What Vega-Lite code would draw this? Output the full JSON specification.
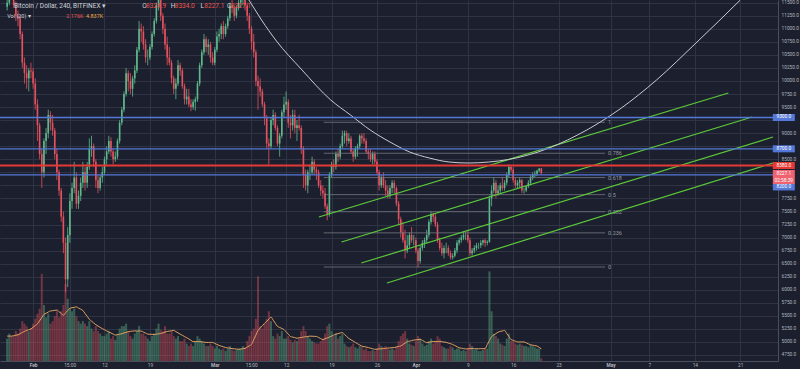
{
"$schema":"https://vega.github.io/schema/vega-lite/v6.json",
"width":778,"height":361,
"autosize":{"type":"none"},
"padding":{"left":0,"top":0,"right":22,"bottom":8},
"background":"#1c202e",
"config":{"view":{"stroke":null},"font":"Roboto","text":{"font":"Roboto"}},
"datasets":{
"candles":[
{"t":"2018-01-28T00:00Z","o":11420,"h":11560,"l":11350,"c":11500,"v":18,"ma":20},
{"t":"2018-01-28T08:00Z","o":11500,"h":11780,"l":11450,"c":11700,"v":22,"ma":20},
{"t":"2018-01-28T16:00Z","o":11700,"h":11800,"l":11550,"c":11620,"v":20,"ma":20},
{"t":"2018-01-29T00:00Z","o":11620,"h":11700,"l":11400,"c":11450,"v":20,"ma":20.3},
{"t":"2018-01-29T08:00Z","o":11450,"h":11520,"l":11150,"c":11250,"v":24,"ma":20.7},
{"t":"2018-01-29T16:00Z","o":11250,"h":11350,"l":11050,"c":11200,"v":22,"ma":21},
{"t":"2018-01-30T00:00Z","o":11200,"h":11260,"l":10800,"c":10900,"v":26,"ma":21.9},
{"t":"2018-01-30T08:00Z","o":10900,"h":10950,"l":10250,"c":10350,"v":32,"ma":22.9},
{"t":"2018-01-30T16:00Z","o":10350,"h":10450,"l":9950,"c":10150,"v":30,"ma":23.8},
{"t":"2018-01-31T00:00Z","o":10150,"h":10300,"l":9850,"c":10050,"v":28,"ma":24.5},
{"t":"2018-01-31T08:00Z","o":10050,"h":10250,"l":9800,"c":10200,"v":24,"ma":25.1},
{"t":"2018-01-31T16:00Z","o":10200,"h":10350,"l":10050,"c":10180,"v":26,"ma":25.8},
{"t":"2018-02-01T00:00Z","o":10180,"h":10250,"l":9850,"c":9950,"v":30,"ma":27.1},
{"t":"2018-02-01T08:00Z","o":9950,"h":10050,"l":9450,"c":9550,"v":34,"ma":28.5},
{"t":"2018-02-01T16:00Z","o":9550,"h":9650,"l":8850,"c":9150,"v":38,"ma":29.8},
{"t":"2018-02-02T00:00Z","o":9150,"h":9200,"l":8500,"c":8600,"v":42,"ma":32.3},
{"t":"2018-02-02T08:00Z","o":8600,"h":8700,"l":7950,"c":8250,"v":70,"ma":34.9},
{"t":"2018-02-02T16:00Z","o":8250,"h":8900,"l":8150,"c":8850,"v":45,"ma":37.4},
{"t":"2018-02-03T00:00Z","o":8850,"h":9100,"l":8600,"c":9000,"v":35,"ma":38.3},
{"t":"2018-02-03T08:00Z","o":9000,"h":9450,"l":8900,"c":9350,"v":38,"ma":39.3},
{"t":"2018-02-03T16:00Z","o":9350,"h":9420,"l":9050,"c":9200,"v":30,"ma":40.2},
{"t":"2018-02-04T00:00Z","o":9200,"h":9350,"l":8950,"c":9050,"v":32,"ma":40.4},
{"t":"2018-02-04T08:00Z","o":9050,"h":9100,"l":8500,"c":8600,"v":36,"ma":40.7},
{"t":"2018-02-04T16:00Z","o":8600,"h":8700,"l":8100,"c":8250,"v":40,"ma":40.9},
{"t":"2018-02-05T00:00Z","o":8250,"h":8300,"l":7800,"c":7900,"v":35,"ma":39.5},
{"t":"2018-02-05T08:00Z","o":7900,"h":7950,"l":7300,"c":7400,"v":40,"ma":38.2},
{"t":"2018-02-05T16:00Z","o":7400,"h":7500,"l":6700,"c":6900,"v":45,"ma":36.8},
{"t":"2018-02-06T00:00Z","o":6900,"h":7000,"l":5950,"c":6200,"v":62,"ma":38.7},
{"t":"2018-02-06T08:00Z","o":6200,"h":7200,"l":6050,"c":7050,"v":50,"ma":40.5},
{"t":"2018-02-06T16:00Z","o":7050,"h":7850,"l":6900,"c":7700,"v":42,"ma":42.4},
{"t":"2018-02-07T00:00Z","o":7700,"h":8050,"l":7550,"c":7950,"v":40,"ma":42.8},
{"t":"2018-02-07T08:00Z","o":7950,"h":8450,"l":7850,"c":8150,"v":42,"ma":43.1},
{"t":"2018-02-07T16:00Z","o":8150,"h":8250,"l":7550,"c":7650,"v":36,"ma":43.5},
{"t":"2018-02-08T00:00Z","o":7650,"h":7900,"l":7550,"c":7800,"v":32,"ma":42.5},
{"t":"2018-02-08T08:00Z","o":7800,"h":8150,"l":7700,"c":8050,"v":30,"ma":41.6},
{"t":"2018-02-08T16:00Z","o":8050,"h":8450,"l":7950,"c":8250,"v":32,"ma":40.6},
{"t":"2018-02-09T00:00Z","o":8250,"h":8350,"l":7900,"c":8050,"v":30,"ma":38.2},
{"t":"2018-02-09T08:00Z","o":8050,"h":8450,"l":7950,"c":8350,"v":28,"ma":35.9},
{"t":"2018-02-09T16:00Z","o":8350,"h":8900,"l":8300,"c":8700,"v":32,"ma":33.5},
{"t":"2018-02-10T00:00Z","o":8700,"h":8950,"l":8550,"c":8750,"v":26,"ma":32},
{"t":"2018-02-10T08:00Z","o":8750,"h":8800,"l":8350,"c":8450,"v":24,"ma":30.6},
{"t":"2018-02-10T16:00Z","o":8450,"h":8500,"l":7950,"c":8100,"v":28,"ma":29.1},
{"t":"2018-02-11T00:00Z","o":8100,"h":8200,"l":7850,"c":7950,"v":24,"ma":28.1},
{"t":"2018-02-11T08:00Z","o":7950,"h":8200,"l":7900,"c":8150,"v":22,"ma":27},
{"t":"2018-02-11T16:00Z","o":8150,"h":8350,"l":8050,"c":8250,"v":20,"ma":26},
{"t":"2018-02-12T00:00Z","o":8250,"h":8550,"l":8200,"c":8500,"v":20,"ma":25.1},
{"t":"2018-02-12T08:00Z","o":8500,"h":8750,"l":8400,"c":8650,"v":22,"ma":24.2},
{"t":"2018-02-12T16:00Z","o":8650,"h":8950,"l":8600,"c":8850,"v":24,"ma":23.3},
{"t":"2018-02-13T00:00Z","o":8850,"h":8920,"l":8550,"c":8650,"v":18,"ma":22.5},
{"t":"2018-02-13T08:00Z","o":8650,"h":8700,"l":8400,"c":8500,"v":20,"ma":21.6},
{"t":"2018-02-13T16:00Z","o":8500,"h":8650,"l":8450,"c":8550,"v":17,"ma":20.8},
{"t":"2018-02-14T00:00Z","o":8550,"h":8900,"l":8500,"c":8850,"v":22,"ma":21.2},
{"t":"2018-02-14T08:00Z","o":8850,"h":9250,"l":8800,"c":9200,"v":26,"ma":21.5},
{"t":"2018-02-14T16:00Z","o":9200,"h":9500,"l":9150,"c":9450,"v":28,"ma":21.9},
{"t":"2018-02-15T00:00Z","o":9450,"h":9800,"l":9400,"c":9750,"v":28,"ma":22.5},
{"t":"2018-02-15T08:00Z","o":9750,"h":10250,"l":9700,"c":10150,"v":30,"ma":23},
{"t":"2018-02-15T16:00Z","o":10150,"h":10200,"l":9800,"c":10000,"v":24,"ma":23.6},
{"t":"2018-02-16T00:00Z","o":10000,"h":10150,"l":9750,"c":9850,"v":20,"ma":23.8},
{"t":"2018-02-16T08:00Z","o":9850,"h":10100,"l":9700,"c":10050,"v":18,"ma":24},
{"t":"2018-02-16T16:00Z","o":10050,"h":10300,"l":9950,"c":10200,"v":22,"ma":24.2},
{"t":"2018-02-17T00:00Z","o":10200,"h":10650,"l":10150,"c":10600,"v":24,"ma":24.1},
{"t":"2018-02-17T08:00Z","o":10600,"h":11150,"l":10550,"c":11000,"v":28,"ma":24.1},
{"t":"2018-02-17T16:00Z","o":11000,"h":11100,"l":10750,"c":10950,"v":22,"ma":24},
{"t":"2018-02-18T00:00Z","o":10950,"h":11050,"l":10600,"c":10700,"v":22,"ma":23.2},
{"t":"2018-02-18T08:00Z","o":10700,"h":10800,"l":10350,"c":10450,"v":20,"ma":22.4},
{"t":"2018-02-18T16:00Z","o":10450,"h":10600,"l":10300,"c":10450,"v":18,"ma":21.6},
{"t":"2018-02-19T00:00Z","o":10450,"h":10700,"l":10400,"c":10650,"v":16,"ma":21.5},
{"t":"2018-02-19T08:00Z","o":10650,"h":10950,"l":10600,"c":10900,"v":20,"ma":21.4},
{"t":"2018-02-19T16:00Z","o":10900,"h":11200,"l":10850,"c":11150,"v":22,"ma":21.3},
{"t":"2018-02-20T00:00Z","o":11150,"h":11500,"l":11100,"c":11450,"v":26,"ma":21.6},
{"t":"2018-02-20T08:00Z","o":11450,"h":11750,"l":11350,"c":11600,"v":30,"ma":21.8},
{"t":"2018-02-20T16:00Z","o":11600,"h":11650,"l":11150,"c":11250,"v":25,"ma":22.1},
{"t":"2018-02-21T00:00Z","o":11250,"h":11300,"l":10900,"c":11000,"v":24,"ma":22.6},
{"t":"2018-02-21T08:00Z","o":11000,"h":11100,"l":10600,"c":10700,"v":28,"ma":23.2},
{"t":"2018-02-21T16:00Z","o":10700,"h":10850,"l":10300,"c":10450,"v":22,"ma":23.7},
{"t":"2018-02-22T00:00Z","o":10450,"h":10650,"l":10300,"c":10350,"v":22,"ma":24},
{"t":"2018-02-22T08:00Z","o":10350,"h":10400,"l":9950,"c":10050,"v":24,"ma":24.3},
{"t":"2018-02-22T16:00Z","o":10050,"h":10100,"l":9750,"c":9850,"v":20,"ma":24.6},
{"t":"2018-02-23T00:00Z","o":9850,"h":10050,"l":9650,"c":9950,"v":18,"ma":23.6},
{"t":"2018-02-23T08:00Z","o":9950,"h":10400,"l":9900,"c":10300,"v":20,"ma":22.6},
{"t":"2018-02-23T16:00Z","o":10300,"h":10350,"l":10100,"c":10200,"v":16,"ma":21.6},
{"t":"2018-02-24T00:00Z","o":10200,"h":10250,"l":9850,"c":9900,"v":16,"ma":20.6},
{"t":"2018-02-24T08:00Z","o":9900,"h":9950,"l":9550,"c":9650,"v":18,"ma":19.7},
{"t":"2018-02-24T16:00Z","o":9650,"h":9850,"l":9550,"c":9700,"v":14,"ma":18.7},
{"t":"2018-02-25T00:00Z","o":9700,"h":9850,"l":9500,"c":9550,"v":12,"ma":17.7},
{"t":"2018-02-25T08:00Z","o":9550,"h":9650,"l":9420,"c":9500,"v":14,"ma":16.6},
{"t":"2018-02-25T16:00Z","o":9500,"h":9650,"l":9450,"c":9600,"v":12,"ma":15.6},
{"t":"2018-02-26T00:00Z","o":9600,"h":9700,"l":9430,"c":9650,"v":16,"ma":15.6},
{"t":"2018-02-26T08:00Z","o":9650,"h":10000,"l":9600,"c":9950,"v":20,"ma":15.6},
{"t":"2018-02-26T16:00Z","o":9950,"h":10350,"l":9900,"c":10300,"v":18,"ma":15.6},
{"t":"2018-02-27T00:00Z","o":10300,"h":10600,"l":10250,"c":10550,"v":16,"ma":15.4},
{"t":"2018-02-27T08:00Z","o":10550,"h":10900,"l":10500,"c":10800,"v":14,"ma":15.1},
{"t":"2018-02-27T16:00Z","o":10800,"h":10850,"l":10550,"c":10650,"v":12,"ma":14.9},
{"t":"2018-02-28T00:00Z","o":10650,"h":10800,"l":10500,"c":10700,"v":12,"ma":14.9},
{"t":"2018-02-28T08:00Z","o":10700,"h":10750,"l":10350,"c":10450,"v":14,"ma":14.9},
{"t":"2018-02-28T16:00Z","o":10450,"h":10550,"l":10300,"c":10350,"v":12,"ma":14.9},
{"t":"2018-03-01T00:00Z","o":10350,"h":10650,"l":10300,"c":10600,"v":10,"ma":14.1},
{"t":"2018-03-01T08:00Z","o":10600,"h":10950,"l":10550,"c":10850,"v":12,"ma":13.3},
{"t":"2018-03-01T16:00Z","o":10850,"h":11000,"l":10750,"c":10900,"v":10,"ma":12.5},
{"t":"2018-03-02T00:00Z","o":10900,"h":11100,"l":10800,"c":11050,"v":9,"ma":11.9},
{"t":"2018-03-02T08:00Z","o":11050,"h":11150,"l":10800,"c":10900,"v":10,"ma":11.4},
{"t":"2018-03-02T16:00Z","o":10900,"h":11100,"l":10850,"c":11050,"v":8,"ma":10.8},
{"t":"2018-03-03T00:00Z","o":11050,"h":11250,"l":11000,"c":11200,"v":10,"ma":10.5},
{"t":"2018-03-03T08:00Z","o":11200,"h":11500,"l":11150,"c":11450,"v":12,"ma":10.3},
{"t":"2018-03-03T16:00Z","o":11450,"h":11550,"l":11300,"c":11400,"v":9,"ma":10},
{"t":"2018-03-04T00:00Z","o":11400,"h":11450,"l":11150,"c":11250,"v":8,"ma":9.8},
{"t":"2018-03-04T08:00Z","o":11250,"h":11450,"l":11200,"c":11400,"v":9,"ma":9.6},
{"t":"2018-03-04T16:00Z","o":11400,"h":11550,"l":11350,"c":11500,"v":10,"ma":9.4},
{"t":"2018-03-05T00:00Z","o":11500,"h":11650,"l":11400,"c":11550,"v":10,"ma":9.6},
{"t":"2018-03-05T08:00Z","o":11550,"h":11700,"l":11450,"c":11600,"v":12,"ma":9.9},
{"t":"2018-03-05T16:00Z","o":11600,"h":11650,"l":11350,"c":11450,"v":11,"ma":10.1},
{"t":"2018-03-06T00:00Z","o":11450,"h":11500,"l":11150,"c":11250,"v":16,"ma":11.2},
{"t":"2018-03-06T08:00Z","o":11250,"h":11300,"l":10900,"c":11000,"v":20,"ma":12.2},
{"t":"2018-03-06T16:00Z","o":11000,"h":11050,"l":10600,"c":10750,"v":24,"ma":13.3},
{"t":"2018-03-07T00:00Z","o":10750,"h":10900,"l":10450,"c":10550,"v":26,"ma":17.1},
{"t":"2018-03-07T08:00Z","o":10550,"h":10600,"l":9900,"c":10000,"v":34,"ma":20.8},
{"t":"2018-03-07T16:00Z","o":10000,"h":10100,"l":9450,"c":9900,"v":68,"ma":24.6},
{"t":"2018-03-08T00:00Z","o":9900,"h":10050,"l":9700,"c":9800,"v":28,"ma":26.5},
{"t":"2018-03-08T08:00Z","o":9800,"h":9850,"l":9500,"c":9550,"v":26,"ma":28.3},
{"t":"2018-03-08T16:00Z","o":9550,"h":9600,"l":9150,"c":9300,"v":30,"ma":30.2},
{"t":"2018-03-09T00:00Z","o":9300,"h":9350,"l":8700,"c":8800,"v":34,"ma":31.9},
{"t":"2018-03-09T08:00Z","o":8800,"h":8900,"l":8400,"c":8750,"v":40,"ma":33.6},
{"t":"2018-03-09T16:00Z","o":8750,"h":9300,"l":8700,"c":9250,"v":32,"ma":35.3},
{"t":"2018-03-10T00:00Z","o":9250,"h":9450,"l":9150,"c":9350,"v":20,"ma":32.8},
{"t":"2018-03-10T08:00Z","o":9350,"h":9400,"l":9050,"c":9100,"v":18,"ma":30.3},
{"t":"2018-03-10T16:00Z","o":9100,"h":9150,"l":8750,"c":8800,"v":22,"ma":27.8},
{"t":"2018-03-11T00:00Z","o":8800,"h":9000,"l":8550,"c":8950,"v":20,"ma":27},
{"t":"2018-03-11T08:00Z","o":8950,"h":9450,"l":8900,"c":9400,"v":24,"ma":26.1},
{"t":"2018-03-11T16:00Z","o":9400,"h":9700,"l":9300,"c":9550,"v":18,"ma":25.3},
{"t":"2018-03-12T00:00Z","o":9550,"h":9800,"l":9450,"c":9600,"v":18,"ma":23.4},
{"t":"2018-03-12T08:00Z","o":9600,"h":9650,"l":9100,"c":9200,"v":20,"ma":21.6},
{"t":"2018-03-12T16:00Z","o":9200,"h":9350,"l":8900,"c":9150,"v":17,"ma":19.7},
{"t":"2018-03-13T00:00Z","o":9150,"h":9450,"l":9050,"c":9350,"v":15,"ma":19.2},
{"t":"2018-03-13T08:00Z","o":9350,"h":9450,"l":9000,"c":9100,"v":17,"ma":18.8},
{"t":"2018-03-13T16:00Z","o":9100,"h":9250,"l":8850,"c":9150,"v":16,"ma":18.3},
{"t":"2018-03-14T00:00Z","o":9150,"h":9350,"l":9050,"c":9100,"v":18,"ma":18.6},
{"t":"2018-03-14T08:00Z","o":9100,"h":9150,"l":8600,"c":8700,"v":24,"ma":18.9},
{"t":"2018-03-14T16:00Z","o":8700,"h":8750,"l":7950,"c":8200,"v":28,"ma":19.2},
{"t":"2018-03-15T00:00Z","o":8200,"h":8300,"l":7900,"c":8000,"v":24,"ma":19.5},
{"t":"2018-03-15T08:00Z","o":8000,"h":8300,"l":7850,"c":8250,"v":20,"ma":19.7},
{"t":"2018-03-15T16:00Z","o":8250,"h":8400,"l":8100,"c":8250,"v":18,"ma":20},
{"t":"2018-03-16T00:00Z","o":8250,"h":8550,"l":8200,"c":8450,"v":16,"ma":19.9},
{"t":"2018-03-16T08:00Z","o":8450,"h":8500,"l":8200,"c":8300,"v":15,"ma":19.8},
{"t":"2018-03-16T16:00Z","o":8300,"h":8350,"l":8100,"c":8250,"v":14,"ma":19.7},
{"t":"2018-03-17T00:00Z","o":8250,"h":8300,"l":7950,"c":8000,"v":14,"ma":18.9},
{"t":"2018-03-17T08:00Z","o":8000,"h":8100,"l":7800,"c":7900,"v":16,"ma":18},
{"t":"2018-03-17T16:00Z","o":7900,"h":8000,"l":7750,"c":7850,"v":18,"ma":17.2},
{"t":"2018-03-18T00:00Z","o":7850,"h":7950,"l":7550,"c":7600,"v":22,"ma":17.9},
{"t":"2018-03-18T08:00Z","o":7600,"h":7650,"l":7330,"c":7450,"v":28,"ma":18.5},
{"t":"2018-03-18T16:00Z","o":7450,"h":8250,"l":7400,"c":8200,"v":30,"ma":19.2},
{"t":"2018-03-19T00:00Z","o":8200,"h":8450,"l":8150,"c":8400,"v":24,"ma":20},
{"t":"2018-03-19T08:00Z","o":8400,"h":8500,"l":8250,"c":8350,"v":20,"ma":20.8},
{"t":"2018-03-19T16:00Z","o":8350,"h":8650,"l":8300,"c":8600,"v":22,"ma":21.6},
{"t":"2018-03-20T00:00Z","o":8600,"h":8700,"l":8450,"c":8550,"v":18,"ma":22},
{"t":"2018-03-20T08:00Z","o":8550,"h":8800,"l":8500,"c":8750,"v":20,"ma":22.5},
{"t":"2018-03-20T16:00Z","o":8750,"h":9050,"l":8700,"c":8950,"v":22,"ma":22.9},
{"t":"2018-03-21T00:00Z","o":8950,"h":9050,"l":8800,"c":9000,"v":14,"ma":21.3},
{"t":"2018-03-21T08:00Z","o":9000,"h":9050,"l":8750,"c":8850,"v":12,"ma":19.7},
{"t":"2018-03-21T16:00Z","o":8850,"h":9000,"l":8800,"c":8900,"v":11,"ma":18.1},
{"t":"2018-03-22T00:00Z","o":8900,"h":8950,"l":8600,"c":8650,"v":12,"ma":17},
{"t":"2018-03-22T08:00Z","o":8650,"h":8700,"l":8450,"c":8550,"v":14,"ma":16},
{"t":"2018-03-22T16:00Z","o":8550,"h":8750,"l":8500,"c":8700,"v":11,"ma":14.9},
{"t":"2018-03-23T00:00Z","o":8700,"h":8800,"l":8550,"c":8750,"v":10,"ma":13.9},
{"t":"2018-03-23T08:00Z","o":8750,"h":8980,"l":8700,"c":8950,"v":12,"ma":12.9},
{"t":"2018-03-23T16:00Z","o":8950,"h":9000,"l":8800,"c":8900,"v":11,"ma":11.9},
{"t":"2018-03-24T00:00Z","o":8900,"h":9000,"l":8800,"c":8850,"v":9,"ma":11.5},
{"t":"2018-03-24T08:00Z","o":8850,"h":8900,"l":8600,"c":8650,"v":10,"ma":11.2},
{"t":"2018-03-24T16:00Z","o":8650,"h":8700,"l":8500,"c":8600,"v":8,"ma":10.8},
{"t":"2018-03-25T00:00Z","o":8600,"h":8700,"l":8450,"c":8500,"v":8,"ma":10.3},
{"t":"2018-03-25T08:00Z","o":8500,"h":8650,"l":8400,"c":8600,"v":9,"ma":9.9},
{"t":"2018-03-25T16:00Z","o":8600,"h":8650,"l":8400,"c":8450,"v":8,"ma":9.4},
{"t":"2018-03-26T00:00Z","o":8450,"h":8500,"l":8200,"c":8250,"v":10,"ma":9.5},
{"t":"2018-03-26T08:00Z","o":8250,"h":8300,"l":7900,"c":8000,"v":14,"ma":9.7},
{"t":"2018-03-26T16:00Z","o":8000,"h":8200,"l":7950,"c":8150,"v":12,"ma":9.8},
{"t":"2018-03-27T00:00Z","o":8150,"h":8250,"l":7950,"c":8000,"v":11,"ma":10},
{"t":"2018-03-27T08:00Z","o":8000,"h":8100,"l":7800,"c":7900,"v":12,"ma":10.2},
{"t":"2018-03-27T16:00Z","o":7900,"h":8000,"l":7750,"c":7800,"v":10,"ma":10.4},
{"t":"2018-03-28T00:00Z","o":7800,"h":8000,"l":7750,"c":7950,"v":9,"ma":10.5},
{"t":"2018-03-28T08:00Z","o":7950,"h":8100,"l":7850,"c":8050,"v":10,"ma":10.7},
{"t":"2018-03-28T16:00Z","o":8050,"h":8100,"l":7850,"c":7950,"v":9,"ma":10.8},
{"t":"2018-03-29T00:00Z","o":7950,"h":7980,"l":7600,"c":7650,"v":12,"ma":11.2},
{"t":"2018-03-29T08:00Z","o":7650,"h":7700,"l":7250,"c":7350,"v":16,"ma":11.7},
{"t":"2018-03-29T16:00Z","o":7350,"h":7400,"l":7000,"c":7100,"v":20,"ma":12.1},
{"t":"2018-03-30T00:00Z","o":7100,"h":7300,"l":6900,"c":6950,"v":22,"ma":13.2},
{"t":"2018-03-30T08:00Z","o":6950,"h":7150,"l":6600,"c":6750,"v":24,"ma":14.4},
{"t":"2018-03-30T16:00Z","o":6750,"h":7050,"l":6700,"c":6850,"v":18,"ma":15.5},
{"t":"2018-03-31T00:00Z","o":6850,"h":7100,"l":6800,"c":7050,"v":14,"ma":15.9},
{"t":"2018-03-31T08:00Z","o":7050,"h":7200,"l":6900,"c":6950,"v":13,"ma":16.4},
{"t":"2018-03-31T16:00Z","o":6950,"h":7050,"l":6850,"c":6950,"v":12,"ma":16.8},
{"t":"2018-04-01T00:00Z","o":6950,"h":7000,"l":6700,"c":6750,"v":16,"ma":17},
{"t":"2018-04-01T08:00Z","o":6750,"h":6800,"l":6430,"c":6550,"v":20,"ma":17.2},
{"t":"2018-04-01T16:00Z","o":6550,"h":6850,"l":6500,"c":6800,"v":18,"ma":17.4},
{"t":"2018-04-02T00:00Z","o":6800,"h":6950,"l":6750,"c":6900,"v":14,"ma":16.5},
{"t":"2018-04-02T08:00Z","o":6900,"h":7000,"l":6800,"c":6950,"v":12,"ma":15.6},
{"t":"2018-04-02T16:00Z","o":6950,"h":7150,"l":6900,"c":7050,"v":13,"ma":14.7},
{"t":"2018-04-03T00:00Z","o":7050,"h":7350,"l":7000,"c":7300,"v":16,"ma":15},
{"t":"2018-04-03T08:00Z","o":7300,"h":7500,"l":7250,"c":7450,"v":18,"ma":15.4},
{"t":"2018-04-03T16:00Z","o":7450,"h":7480,"l":7300,"c":7400,"v":14,"ma":15.7},
{"t":"2018-04-04T00:00Z","o":7400,"h":7450,"l":7200,"c":7250,"v":16,"ma":15.7},
{"t":"2018-04-04T08:00Z","o":7250,"h":7300,"l":6900,"c":6950,"v":20,"ma":15.7},
{"t":"2018-04-04T16:00Z","o":6950,"h":7000,"l":6750,"c":6800,"v":18,"ma":15.7},
{"t":"2018-04-05T00:00Z","o":6800,"h":6900,"l":6650,"c":6700,"v":12,"ma":15.5},
{"t":"2018-04-05T08:00Z","o":6700,"h":6850,"l":6600,"c":6800,"v":11,"ma":15.2},
{"t":"2018-04-05T16:00Z","o":6800,"h":6900,"l":6700,"c":6800,"v":10,"ma":15},
{"t":"2018-04-06T00:00Z","o":6800,"h":6850,"l":6650,"c":6700,"v":10,"ma":14.4},
{"t":"2018-04-06T08:00Z","o":6700,"h":6750,"l":6580,"c":6620,"v":12,"ma":13.9},
{"t":"2018-04-06T16:00Z","o":6620,"h":6700,"l":6580,"c":6650,"v":11,"ma":13.3},
{"t":"2018-04-07T00:00Z","o":6650,"h":6800,"l":6620,"c":6750,"v":9,"ma":12.4},
{"t":"2018-04-07T08:00Z","o":6750,"h":6950,"l":6700,"c":6900,"v":10,"ma":11.5},
{"t":"2018-04-07T16:00Z","o":6900,"h":7000,"l":6850,"c":6950,"v":10,"ma":10.6},
{"t":"2018-04-08T00:00Z","o":6950,"h":7050,"l":6900,"c":7000,"v":8,"ma":10.3},
{"t":"2018-04-08T08:00Z","o":7000,"h":7120,"l":6950,"c":7050,"v":9,"ma":10},
{"t":"2018-04-08T16:00Z","o":7050,"h":7100,"l":6950,"c":7050,"v":8,"ma":9.7},
{"t":"2018-04-09T00:00Z","o":7050,"h":7150,"l":6900,"c":6950,"v":10,"ma":9.8},
{"t":"2018-04-09T08:00Z","o":6950,"h":7000,"l":6650,"c":6700,"v":14,"ma":9.9},
{"t":"2018-04-09T16:00Z","o":6700,"h":6800,"l":6650,"c":6750,"v":12,"ma":10},
{"t":"2018-04-10T00:00Z","o":6750,"h":6850,"l":6700,"c":6800,"v":9,"ma":9.9},
{"t":"2018-04-10T08:00Z","o":6800,"h":6900,"l":6750,"c":6850,"v":10,"ma":9.9},
{"t":"2018-04-10T16:00Z","o":6850,"h":6900,"l":6780,"c":6850,"v":8,"ma":9.8},
{"t":"2018-04-11T00:00Z","o":6850,"h":6950,"l":6800,"c":6900,"v":8,"ma":9.9},
{"t":"2018-04-11T08:00Z","o":6900,"h":6960,"l":6850,"c":6950,"v":9,"ma":9.9},
{"t":"2018-04-11T16:00Z","o":6950,"h":6980,"l":6820,"c":6900,"v":10,"ma":10},
{"t":"2018-04-12T00:00Z","o":6900,"h":6950,"l":6850,"c":6920,"v":10,"ma":13.2},
{"t":"2018-04-12T08:00Z","o":6920,"h":7800,"l":6900,"c":7750,"v":72,"ma":16.4},
{"t":"2018-04-12T16:00Z","o":7750,"h":8000,"l":7600,"c":7900,"v":40,"ma":19.6},
{"t":"2018-04-13T00:00Z","o":7900,"h":8150,"l":7850,"c":8050,"v":22,"ma":20.8},
{"t":"2018-04-13T08:00Z","o":8050,"h":8100,"l":7750,"c":7850,"v":20,"ma":22},
{"t":"2018-04-13T16:00Z","o":7850,"h":8000,"l":7800,"c":7900,"v":18,"ma":23.2},
{"t":"2018-04-14T00:00Z","o":7900,"h":8050,"l":7850,"c":8000,"v":14,"ma":23.7},
{"t":"2018-04-14T08:00Z","o":8000,"h":8150,"l":7900,"c":7950,"v":13,"ma":24.1},
{"t":"2018-04-14T16:00Z","o":7950,"h":8100,"l":7900,"c":8050,"v":12,"ma":24.6},
{"t":"2018-04-15T00:00Z","o":8050,"h":8250,"l":8000,"c":8200,"v":18,"ma":22.1},
{"t":"2018-04-15T08:00Z","o":8200,"h":8400,"l":8150,"c":8350,"v":22,"ma":19.7},
{"t":"2018-04-15T16:00Z","o":8350,"h":8380,"l":8250,"c":8300,"v":16,"ma":17.2},
{"t":"2018-04-16T00:00Z","o":8300,"h":8350,"l":8050,"c":8100,"v":16,"ma":16.6},
{"t":"2018-04-16T08:00Z","o":8100,"h":8150,"l":7950,"c":8000,"v":14,"ma":15.9},
{"t":"2018-04-16T16:00Z","o":8000,"h":8100,"l":7950,"c":8050,"v":13,"ma":15.3},
{"t":"2018-04-17T00:00Z","o":8050,"h":8150,"l":7950,"c":8100,"v":14,"ma":15.3},
{"t":"2018-04-17T08:00Z","o":8100,"h":8120,"l":7850,"c":7900,"v":13,"ma":15.3},
{"t":"2018-04-17T16:00Z","o":7900,"h":7950,"l":7840,"c":7900,"v":12,"ma":15.3},
{"t":"2018-04-18T00:00Z","o":7900,"h":8000,"l":7870,"c":7980,"v":12,"ma":14.6},
{"t":"2018-04-18T08:00Z","o":7980,"h":8100,"l":7950,"c":8050,"v":11,"ma":13.8},
{"t":"2018-04-18T16:00Z","o":8050,"h":8200,"l":8000,"c":8150,"v":13,"ma":13.1},
{"t":"2018-04-19T00:00Z","o":8150,"h":8250,"l":8100,"c":8200,"v":12,"ma":12.7},
{"t":"2018-04-19T08:00Z","o":8200,"h":8280,"l":8150,"c":8220,"v":11,"ma":12.4},
{"t":"2018-04-19T16:00Z","o":8220,"h":8300,"l":8180,"c":8280,"v":10,"ma":12},
{"t":"2018-04-20T00:00Z","o":8280,"h":8330,"l":8250,"c":8325,"v":10,"ma":11},
{"t":"2018-04-20T08:00Z","o":8324.9,"h":8334,"l":8227.1,"c":8227.1,"v":2.2,"ma":9.7}
],
"levels":[{"p":9300,"kind":"level"},{"p":8700,"kind":"level"},{"p":8200,"kind":"level"},{"p":8380,"kind":"alert"}],
"fib":[
{"lvl":"1","p":9208,"t0":"2018-03-17T19:00Z","t1":"2018-04-30T04:00Z"},
{"lvl":"0.786","p":8615,"t0":"2018-03-17T19:00Z","t1":"2018-04-30T04:00Z"},
{"lvl":"0.618","p":8149,"t0":"2018-03-17T19:00Z","t1":"2018-04-30T04:00Z"},
{"lvl":"0.5","p":7822,"t0":"2018-03-17T19:00Z","t1":"2018-04-30T04:00Z"},
{"lvl":"0.382","p":7495,"t0":"2018-03-17T19:00Z","t1":"2018-04-30T04:00Z"},
{"lvl":"0.236","p":7090,"t0":"2018-03-17T19:00Z","t1":"2018-04-30T04:00Z"},
{"lvl":"0","p":6436,"t0":"2018-03-17T19:00Z","t1":"2018-04-30T04:00Z"}
],
"channel":[
{"id":1,"t":"2018-03-17T01:00Z","p":7394},{"id":1,"t":"2018-05-19T04:00Z","p":9769},
{"id":2,"t":"2018-03-20T13:00Z","p":6915},{"id":2,"t":"2018-05-22T20:00Z","p":9309},
{"id":3,"t":"2018-03-23T14:00Z","p":6512},{"id":3,"t":"2018-05-26T01:00Z","p":8926},
{"id":4,"t":"2018-03-27T13:00Z","p":6129},{"id":4,"t":"2018-05-26T01:00Z","p":8428}
],
"arc":[
{"t":"2018-03-05T04:00Z","p":11743},{"t":"2018-03-06T06:00Z","p":11551},{"t":"2018-03-08T05:00Z","p":11168},
{"t":"2018-03-10T12:00Z","p":10766},{"t":"2018-03-14T07:30Z","p":10229},{"t":"2018-03-18T21:00Z","p":9635},
{"t":"2018-03-21T22:00Z","p":9348},{"t":"2018-03-24T23:00Z","p":9060},{"t":"2018-03-28T00:00Z","p":8831},
{"t":"2018-03-31T01:00Z","p":8639},{"t":"2018-04-03T02:00Z","p":8524},{"t":"2018-04-06T03:00Z","p":8447},
{"t":"2018-04-09T04:00Z","p":8428},{"t":"2018-04-12T05:00Z","p":8447},{"t":"2018-04-15T06:00Z","p":8495},
{"t":"2018-04-19T20:00Z","p":8639},{"t":"2018-04-25T22:00Z","p":8965},{"t":"2018-05-02T11:00Z","p":9463},
{"t":"2018-05-08T02:00Z","p":10018},{"t":"2018-05-14T04:00Z","p":10727},{"t":"2018-05-21T00:00Z","p":11551},
{"t":"2018-05-22T13:00Z","p":11743}
],
"last":[{"p":8227.1,"cd":"02:58:39"}]
},
"layer":[
{"data":{"name":"candles","format":{"parse":{"t":"date"}}},
 "layer":[
  {"mark":{"type":"bar","size":2,"opacity":0.42},
   "encoding":{
    "x":{"field":"t","type":"temporal","scale":{"type":"utc","nice":false,"domain":[{"year":2018,"month":1,"date":27,"hours":16,"utc":true},{"year":2018,"month":5,"date":26,"hours":1,"utc":true}]}},
    "y":{"field":"v","type":"quantitative","axis":null,"scale":{"domain":[0,290],"nice":false}},
    "color":{"condition":{"test":"datum.c >= datum.o","value":"#5fb98b"},"value":"#e4515f"}}},
  {"mark":{"type":"line","color":"#e0a060","strokeWidth":1,"interpolate":"monotone"},
   "encoding":{
    "x":{"field":"t","type":"temporal","scale":{"type":"utc","nice":false,"domain":[{"year":2018,"month":1,"date":27,"hours":16,"utc":true},{"year":2018,"month":5,"date":26,"hours":1,"utc":true}]}},
    "y":{"field":"ma","type":"quantitative","axis":null,"scale":{"domain":[0,290],"nice":false}}}}
 ]},
{"layer":[
  {"data":{"name":"candles","format":{"parse":{"t":"date"}}},
   "mark":{"type":"rule","strokeWidth":0.8,"clip":true},
   "encoding":{
    "x":{"field":"t","type":"temporal","scale":{"type":"utc","nice":false,"domain":[{"year":2018,"month":1,"date":27,"hours":16,"utc":true},{"year":2018,"month":5,"date":26,"hours":1,"utc":true}]},
     "axis":{"title":null,"orient":"bottom","grid":true,"gridColor":"#2f3344","ticks":false,"domainColor":"#4a4e5c","labelColor":"#b2b5be","labelFontSize":4.8,"labelPadding":1.5,"labelFont":"Roboto","labelOverlap":false,"tickCount":60,
      "labelFontWeight":{"condition":{"test":"utcdate(datum.value) == 1","value":"bold"},"value":"normal"},
      "labelExpr":"utchours(datum.value) == 15 ? '15:00' : (utcdate(datum.value) == 1 ? utcFormat(datum.value, '%b') : '' + utcdate(datum.value))",
      "values":[{"year":2018,"month":2,"date":1,"utc":true},{"year":2018,"month":2,"date":6,"hours":15,"utc":true},{"year":2018,"month":2,"date":12,"utc":true},{"year":2018,"month":2,"date":19,"utc":true},{"year":2018,"month":3,"date":1,"utc":true},{"year":2018,"month":3,"date":6,"hours":15,"utc":true},{"year":2018,"month":3,"date":12,"utc":true},{"year":2018,"month":3,"date":19,"utc":true},{"year":2018,"month":3,"date":26,"utc":true},{"year":2018,"month":4,"date":1,"utc":true},{"year":2018,"month":4,"date":9,"utc":true},{"year":2018,"month":4,"date":16,"utc":true},{"year":2018,"month":4,"date":23,"utc":true},{"year":2018,"month":5,"date":1,"utc":true},{"year":2018,"month":5,"date":7,"utc":true},{"year":2018,"month":5,"date":14,"utc":true},{"year":2018,"month":5,"date":21,"utc":true}]}},
    "y":{"field":"l","type":"quantitative","scale":{"domain":[4635,11551],"nice":false},
     "axis":{"title":null,"orient":"right","grid":true,"gridColor":"#2f3344","ticks":false,"domainColor":"#4a4e5c","labelColor":"#b2b5be","labelFontSize":4.8,"labelPadding":3,"labelFont":"Roboto","labelOverlap":false,"tickCount":60,
      "values":[4750,5000,5250,5500,5750,6000,6250,6500,6750,7000,7250,7500,7750,8000,8250,8500,8750,9000,9250,9500,9750,10000,10250,10500,10750,11000,11250,11500],
      "labelExpr":"indexof([9250,8750,8250,8000], datum.value) >= 0 ? '' : format(datum.value, '.1f')"}},
    "y2":{"field":"h"},
    "color":{"condition":{"test":"datum.c >= datum.o","value":"#5fb98b"},"value":"#e4515f"}}},
  {"data":{"name":"candles","format":{"parse":{"t":"date"}}},
   "mark":{"type":"bar","size":1.6,"clip":true},
   "encoding":{
    "x":{"field":"t","type":"temporal","scale":{"type":"utc","nice":false,"domain":[{"year":2018,"month":1,"date":27,"hours":16,"utc":true},{"year":2018,"month":5,"date":26,"hours":1,"utc":true}]}},
    "y":{"field":"o","type":"quantitative","scale":{"domain":[4635,11551],"nice":false}},
    "y2":{"field":"c"},
    "color":{"condition":{"test":"datum.c >= datum.o","value":"#5fb98b"},"value":"#e4515f"}}},
  {"data":{"name":"fib","format":{"parse":{"t0":"date","t1":"date"}}},
   "mark":{"type":"rule","color":"#787b86","strokeWidth":0.9,"opacity":0.85},
   "encoding":{
    "x":{"field":"t0","type":"temporal","scale":{"type":"utc","nice":false,"domain":[{"year":2018,"month":1,"date":27,"hours":16,"utc":true},{"year":2018,"month":5,"date":26,"hours":1,"utc":true}]}},
    "x2":{"field":"t1"},
    "y":{"field":"p","type":"quantitative","scale":{"domain":[4635,11551],"nice":false}}}},
  {"data":{"name":"fib"},
   "mark":{"type":"text","align":"left","baseline":"middle","fontSize":5.5,"color":"#9598a1"},
   "encoding":{
    "x":{"datum":{"year":2018,"month":4,"date":30,"hours":15,"utc":true},"type":"temporal"},
    "y":{"field":"p","type":"quantitative"},
    "text":{"field":"lvl"}}},
  {"data":{"name":"channel","format":{"parse":{"t":"date"}}},
   "mark":{"type":"line","color":"#5cc93a","strokeWidth":1.2},
   "encoding":{
    "x":{"field":"t","type":"temporal","scale":{"type":"utc","nice":false,"domain":[{"year":2018,"month":1,"date":27,"hours":16,"utc":true},{"year":2018,"month":5,"date":26,"hours":1,"utc":true}]}},
    "y":{"field":"p","type":"quantitative","scale":{"domain":[4635,11551],"nice":false}},
    "detail":{"field":"id"}}},
  {"data":{"name":"arc","format":{"parse":{"t":"date"}}},
   "mark":{"type":"line","color":"#c9cbd1","strokeWidth":1,"interpolate":"monotone","clip":true},
   "encoding":{
    "x":{"field":"t","type":"temporal","scale":{"type":"utc","nice":false,"domain":[{"year":2018,"month":1,"date":27,"hours":16,"utc":true},{"year":2018,"month":5,"date":26,"hours":1,"utc":true}]}},
    "y":{"field":"p","type":"quantitative","scale":{"domain":[4635,11551],"nice":false}}}},
  {"data":{"name":"levels"},
   "mark":{"type":"rule"},
   "encoding":{
    "y":{"field":"p","type":"quantitative"},
    "color":{"field":"kind","type":"nominal","legend":null,"scale":{"domain":["level","alert"],"range":["#5478d8","#e53935"]}},
    "strokeWidth":{"field":"kind","type":"nominal","legend":null,"scale":{"domain":["level","alert"],"range":[1.3,1.8]}}}},
  {"data":{"name":"levels"},
   "transform":[{"filter":"datum.p != 8200"}],
   "mark":{"type":"point","shape":"M-1,-0.32H1V0.32H-1Z","filled":true,"opacity":1,"size":484},
   "encoding":{
    "x":{"datum":{"year":2018,"month":5,"date":27,"hours":17,"utc":true},"type":"temporal"},
    "y":{"field":"p","type":"quantitative"},
    "color":{"field":"kind","type":"nominal","legend":null,"scale":{"domain":["level","alert"],"range":["#5478d8","#e53935"]}}}},
  {"data":{"name":"levels"},
   "transform":[{"filter":"datum.p == 8200"}],
   "mark":{"type":"point","shape":"M-1,-0.32H1V0.32H-1Z","filled":true,"opacity":1,"size":484,"yOffset":12},
   "encoding":{
    "x":{"datum":{"year":2018,"month":5,"date":27,"hours":17,"utc":true},"type":"temporal"},
    "y":{"field":"p","type":"quantitative"},
    "color":{"field":"kind","type":"nominal","legend":null,"scale":{"domain":["level","alert"],"range":["#5478d8","#e53935"]}}}},
  {"data":{"name":"last"},
   "mark":{"type":"point","shape":"M-1,-0.32H1V0.32H-1Z","filled":true,"opacity":1,"size":484,"color":"#ef6370"},
   "encoding":{
    "x":{"datum":{"year":2018,"month":5,"date":27,"hours":17,"utc":true},"type":"temporal"},
    "y":{"field":"p","type":"quantitative"}}},
  {"data":{"name":"last"},
   "mark":{"type":"point","shape":"M-1,-0.32H1V0.32H-1Z","filled":true,"opacity":1,"size":484,"color":"#ef6370","yOffset":7},
   "encoding":{
    "x":{"datum":{"year":2018,"month":5,"date":27,"hours":17,"utc":true},"type":"temporal"},
    "y":{"field":"p","type":"quantitative"}}},
  {"data":{"name":"levels"},
   "transform":[{"filter":"datum.p != 8200"}],
   "mark":{"type":"text","align":"center","baseline":"middle","fontSize":4.8,"color":"#ffffff"},
   "encoding":{
    "x":{"datum":{"year":2018,"month":5,"date":27,"hours":17,"utc":true},"type":"temporal"},
    "y":{"field":"p","type":"quantitative"},
    "text":{"field":"p","type":"quantitative","format":".1f"}}},
  {"data":{"name":"levels"},
   "transform":[{"filter":"datum.p == 8200"}],
   "mark":{"type":"text","align":"center","baseline":"middle","fontSize":4.8,"color":"#ffffff","dy":12},
   "encoding":{
    "x":{"datum":{"year":2018,"month":5,"date":27,"hours":17,"utc":true},"type":"temporal"},
    "y":{"field":"p","type":"quantitative"},
    "text":{"field":"p","type":"quantitative","format":".1f"}}},
  {"data":{"name":"last"},
   "mark":{"type":"text","align":"center","baseline":"middle","fontSize":4.8,"color":"#ffffff"},
   "encoding":{
    "x":{"datum":{"year":2018,"month":5,"date":27,"hours":17,"utc":true},"type":"temporal"},
    "y":{"field":"p","type":"quantitative"},
    "text":{"field":"p","type":"quantitative","format":".1f"}}},
  {"data":{"name":"last"},
   "mark":{"type":"text","align":"center","baseline":"middle","fontSize":4.8,"color":"#ffffff","dy":7},
   "encoding":{
    "x":{"datum":{"year":2018,"month":5,"date":27,"hours":17,"utc":true},"type":"temporal"},
    "y":{"field":"p","type":"quantitative"},
    "text":{"field":"cd"}}},
  {"data":{"values":[{}]},
   "mark":{"type":"text","align":"left","baseline":"middle","fontSize":6.5,"color":"#d1d4dc","text":"Bitcoin / Dollar, 240, BITFINEX ▾"},
   "encoding":{"x":{"datum":{"year":2018,"month":1,"date":29,"hours":1,"utc":true},"type":"temporal"},"y":{"datum":11436,"type":"quantitative"}}},
  {"data":{"values":[{}]},
   "mark":{"type":"text","align":"left","baseline":"middle","fontSize":6.5,"color":"#d1d4dc","text":"O"},
   "encoding":{"x":{"datum":{"year":2018,"month":2,"date":17,"hours":19,"minutes":30,"utc":true},"type":"temporal"},"y":{"datum":11436,"type":"quantitative"}}},
  {"data":{"values":[{}]},
   "mark":{"type":"text","align":"left","baseline":"middle","fontSize":6.5,"color":"#ef5350","text":"8324.9"},
   "encoding":{"x":{"datum":{"year":2018,"month":2,"date":18,"hours":10,"utc":true},"type":"temporal"},"y":{"datum":11436,"type":"quantitative"}}},
  {"data":{"values":[{}]},
   "mark":{"type":"text","align":"left","baseline":"middle","fontSize":6.5,"color":"#d1d4dc","text":"H"},
   "encoding":{"x":{"datum":{"year":2018,"month":2,"date":22,"hours":5,"utc":true},"type":"temporal"},"y":{"datum":11436,"type":"quantitative"}}},
  {"data":{"values":[{}]},
   "mark":{"type":"text","align":"left","baseline":"middle","fontSize":6.5,"color":"#ef5350","text":"8334.0"},
   "encoding":{"x":{"datum":{"year":2018,"month":2,"date":22,"hours":20,"utc":true},"type":"temporal"},"y":{"datum":11436,"type":"quantitative"}}},
  {"data":{"values":[{}]},
   "mark":{"type":"text","align":"left","baseline":"middle","fontSize":6.5,"color":"#d1d4dc","text":"L"},
   "encoding":{"x":{"datum":{"year":2018,"month":2,"date":26,"hours":19,"utc":true},"type":"temporal"},"y":{"datum":11436,"type":"quantitative"}}},
  {"data":{"values":[{}]},
   "mark":{"type":"text","align":"left","baseline":"middle","fontSize":6.5,"color":"#ef5350","text":"8227.1"},
   "encoding":{"x":{"datum":{"year":2018,"month":2,"date":27,"hours":9,"minutes":30,"utc":true},"type":"temporal"},"y":{"datum":11436,"type":"quantitative"}}},
  {"data":{"values":[{}]},
   "mark":{"type":"text","align":"left","baseline":"middle","fontSize":6.5,"color":"#d1d4dc","text":"C"},
   "encoding":{"x":{"datum":{"year":2018,"month":3,"date":2,"hours":21,"minutes":30,"utc":true},"type":"temporal"},"y":{"datum":11436,"type":"quantitative"}}},
  {"data":{"values":[{}]},
   "mark":{"type":"text","align":"left","baseline":"middle","fontSize":6.5,"color":"#ef5350","text":"8227.1"},
   "encoding":{"x":{"datum":{"year":2018,"month":3,"date":3,"hours":12,"utc":true},"type":"temporal"},"y":{"datum":11436,"type":"quantitative"}}},
  {"data":{"values":[{}]},
   "mark":{"type":"text","align":"left","baseline":"middle","fontSize":5.5,"color":"#d1d4dc","text":"Vol (20) ▾"},
   "encoding":{"x":{"datum":{"year":2018,"month":1,"date":28,"utc":true},"type":"temporal"},"y":{"datum":11244,"type":"quantitative"}}},
  {"data":{"values":[{}]},
   "mark":{"type":"text","align":"left","baseline":"middle","fontSize":5.5,"color":"#ef5350","text":"2.176K"},
   "encoding":{"x":{"datum":{"year":2018,"month":2,"date":6,"hours":2,"minutes":20,"utc":true},"type":"temporal"},"y":{"datum":11244,"type":"quantitative"}}},
  {"data":{"values":[{}]},
   "mark":{"type":"text","align":"left","baseline":"middle","fontSize":5.5,"color":"#f0a742","text":"4.837K"},
   "encoding":{"x":{"datum":{"year":2018,"month":2,"date":9,"hours":3,"minutes":20,"utc":true},"type":"temporal"},"y":{"datum":11244,"type":"quantitative"}}}
 ]}
],
"resolve":{"scale":{"y":"independent"}}
}
